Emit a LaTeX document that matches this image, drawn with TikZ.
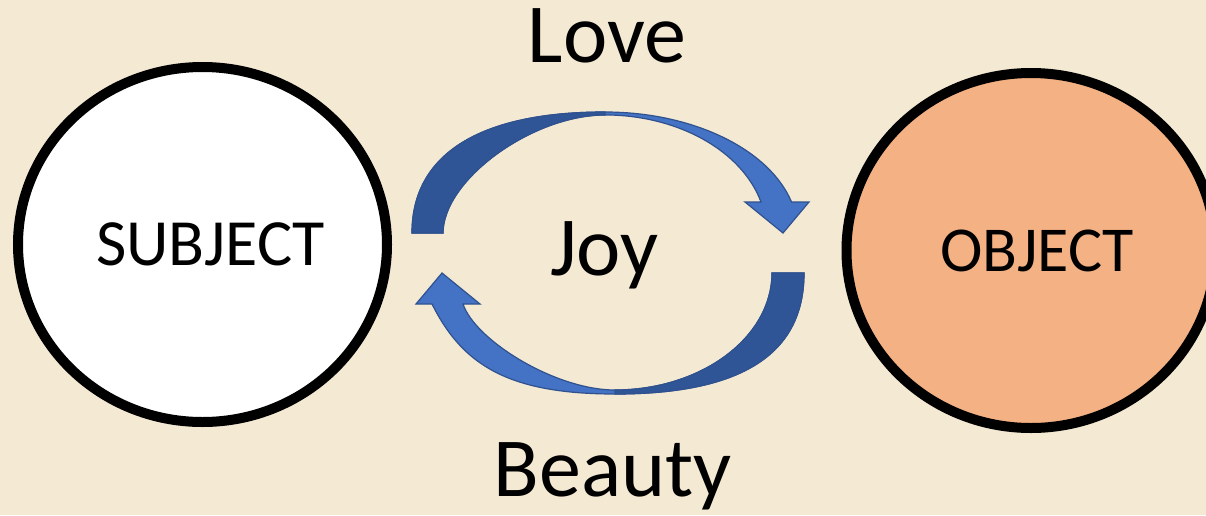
\documentclass[tikz,border=0pt]{standalone}
\usepackage{fontspec}
\setmainfont{Carlito}
\usepackage{xcolor}
\usetikzlibrary{shapes.geometric,positioning}
\definecolor{paper}{HTML}{F4E9D3}
\definecolor{peach}{HTML}{F4B183}
\definecolor{ringblue}{HTML}{4472C4}
\definecolor{ringdark}{HTML}{2F5597}
\definecolor{ringedge}{HTML}{2F528F}

\begin{document}
\begin{tikzpicture}[x=0.5pt, y=-0.5pt,
  orb/.style={ellipse, draw=black, line width=5pt, inner sep=0pt,
              minimum width=184.5pt, minimum height=177.5pt},
  word/.style={anchor=base, font=\fontsize{42}{50}\selectfont},
  band/.style={fill=ringblue, draw=ringedge, line width=0.6pt}
]
\useasboundingbox (0,0) rectangle (1206,515);
\fill[paper] (0,0) rectangle (1206,515);

\node[orb, fill=white,
      label={[xshift=4pt, font=\fontsize{33}{40}\selectfont]center:SUBJECT}]
  (subject) at (202.5,244.5) {};
\node[orb, fill=peach,
      label={[xshift=3pt, font=\fontsize{32}{40}\selectfont]center:OBJECT}]
  (object) at (1031,250.5) {};

\node[word] (love)   at (607,62)    {Love};
\node[word] (joy)    at (604.5,275) {Joy};
\node[word] (beauty) at (612.5,496) {Beauty};

% upper arrow, towards OBJECT
\path[band] (412,233) .. controls (412,154.4) and (479.5,112) .. (605,112)
    arc[start angle=270, end angle=345.2, x radius=193, y radius=121]
  -- (809,202) -- (783,233) -- (745,202) -- (761,202)
    arc[start angle=344.8, end angle=270, x radius=162, y radius=118]
    .. controls (532,115) and (443,180) .. (443,233)
  -- cycle;
\path[band, fill=ringdark] (412,233)
    .. controls (412,154.4) and (479.5,112) .. (605,112)
  -- (605,115) .. controls (532,115) and (443,180) .. (443,233)
  -- cycle;

% lower arrow, back towards SUBJECT
\path[band] (804,273) .. controls (804,354.1) and (741.6,394) .. (615,394)
    .. controls (507,394) and (462,364) .. (432,304)
  -- (416,304) -- (442,273) -- (480,304) -- (463,304)
    .. controls (475,340) and (555,390) .. (615,390)
    .. controls (701.4,390) and (772,337.4) .. (772,273)
  -- cycle;
\path[band, fill=ringdark] (804,273)
    .. controls (804,354.1) and (741.6,394) .. (615,394)
  -- (615,390) .. controls (701.4,390) and (772,337.4) .. (772,273)
  -- cycle;
\end{tikzpicture}
\end{document}
